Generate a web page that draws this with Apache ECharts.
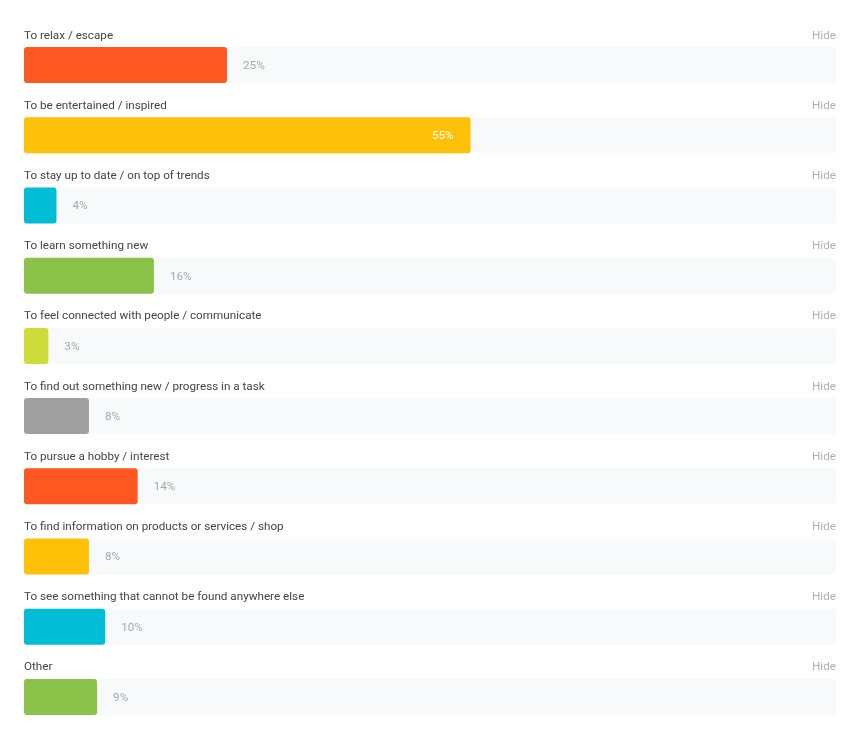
<!DOCTYPE html>
<html>
<head>
<meta charset="utf-8">
<script src="https://cdn.jsdelivr.net/npm/echarts@6/dist/echarts.min.js"></script>
<style>
html,body{margin:0;padding:0;background:#fff;}
#chart{width:858px;height:748px;}
</style>
</head>
<body>
<div id="chart"></div>
<script>
var categories = [
  "To relax / escape",
  "To be entertained / inspired",
  "To stay up to date / on top of trends",
  "To learn something new",
  "To feel connected with people / communicate",
  "To find out something new / progress in a task",
  "To pursue a hobby / interest",
  "To find information on products or services / shop",
  "To see something that cannot be found anywhere else",
  "Other"
];
var values = [25, 55, 4, 16, 3, 8, 14, 8, 10, 9];
var maxValue = 100;
var actionLabel = "Hide";

var palette = ["#FF5722", "#FFC107", "#00BCD4", "#8BC34A", "#CDDC39", "#A0A0A0"];
var insideThreshold = 40;
var font = "Roboto, 'Noto Sans', sans-serif";
var fs = 11.7;

var chart = echarts.init(document.getElementById('chart'), null, {renderer: 'canvas'});

var mainData = values.map(function (v, i) {
  var inside = v >= insideThreshold;
  return {
    value: v,
    itemStyle: {color: palette[i < 6 ? i : (i - 6) % 4]},
    label: inside ? {position: 'insideRight', distance: 17, color: '#ffffff'} : {position: 'right', distance: 16, color: '#a8a8a8'}
  };
});

var option = {
  animation: false,
  backgroundColor: '#ffffff',
  grid: {left: 24, right: 22, top: 30, bottom: 16, containLabel: false},
  xAxis: {type: 'value', min: 0, max: maxValue, show: false},
  yAxis: {type: 'category', data: categories, inverse: true, show: false},
  series: [
    {
      name: 'bg',
      type: 'bar',
      barWidth: 36,
      silent: true,
      z: 1,
      data: categories.map(function () { return maxValue; }),
      itemStyle: {color: '#f8f9fa', borderRadius: 3},
      label: {
        show: true,
        position: [0, -11.5],
        align: 'left',
        verticalAlign: 'middle',
        fontFamily: font,
        fontSize: fs,
        color: '#444444',
        formatter: function (p) { return p.name; }
      }
    },
    {
      name: 'hide',
      type: 'bar',
      barWidth: 36,
      barGap: '-100%',
      silent: true,
      z: 1,
      data: categories.map(function () { return maxValue; }),
      itemStyle: {color: 'rgba(0,0,0,0)'},
      label: {
        show: true,
        position: ['100%', -11.5],
        align: 'right',
        verticalAlign: 'middle',
        fontFamily: font,
        fontSize: fs,
        color: '#b0b0b0',
        formatter: actionLabel
      }
    },
    {
      name: 'value',
      type: 'bar',
      barWidth: 36,
      barGap: '-100%',
      z: 3,
      data: mainData,
      itemStyle: {borderRadius: 3},
      label: {
        show: true,
        fontFamily: font,
        fontSize: fs,
        offset: [0, 1],
        formatter: '{c}%'
      }
    }
  ]
};
chart.setOption(option);
</script>
</body>
</html>
